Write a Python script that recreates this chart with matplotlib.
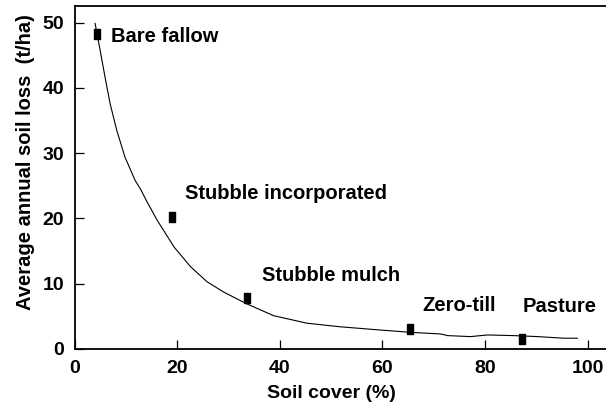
import matplotlib
matplotlib.use("Agg")
import matplotlib.pyplot as plt

plt.rcParams['font.family'] = ['Liberation Sans', 'DejaVu Sans']
plt.rcParams['font.weight'] = 'bold'

# measured points
cover = [4.3, 19.0, 33.6, 65.4, 87.2]
soil_loss = [48.3, 20.3, 7.8, 3.1, 1.6]
names = ['Bare fallow', 'Stubble incorporated', 'Stubble mulch', 'Zero-till', 'Pasture']
label_x = [7.0, 21.6, 36.5, 67.8, 87.3]
label_y = [47.9, 23.8, 11.3, 6.6, 6.5]

# fitted curve
curve_x = [3.97, 4.95, 5.9, 6.9, 8.2, 9.8, 11.8, 12.9, 14.0, 16.1, 19.4, 22.6, 25.8, 29.1,
           33.6, 38.8, 45.3, 51.8, 59.7, 65.5, 71.4, 72.7, 77.2, 80.5, 85.6, 90.2, 95.4, 98.0]
curve_y = [49.9, 45.8, 41.7, 37.6, 33.5, 29.4, 25.8, 24.4, 22.7, 19.7, 15.6, 12.6, 10.3, 8.7,
           6.9, 5.1, 3.95, 3.4, 2.9, 2.55, 2.3, 2.05, 1.9, 2.15, 2.05, 1.9, 1.65, 1.65]

xticks = [0, 20, 40, 60, 80, 100]
yticks = [0, 10, 20, 30, 40, 50]

fig = plt.figure(figsize=(6.06, 4.05), dpi=100)
ax = fig.add_axes([0.1233, 0.1383, 0.8767, 0.8469])

ax.plot(curve_x, curve_y, color='black', lw=0.8)
rect = [(-0.6, -1), (0.6, -1), (0.6, 1), (-0.6, 1), (-0.6, -1)]
ax.plot(cover, soil_loss, linestyle='none', marker=rect, markersize=7.2, color='black')

for n, tx, ty in zip(names, label_x, label_y):
    ax.text(tx, ty, n, fontsize=14.5, fontweight='bold', va='center', ha='left')

ax.set_xlim(0, 103.6)
ax.set_ylim(0, 52.56)
ax.set_xticks(xticks)
ax.set_yticks(yticks)
ax.tick_params(direction='in', length=6.5, width=0.9, labelsize=14)
ax.tick_params(axis='x', pad=8)
ax.tick_params(axis='y', pad=7.5)
for lab in ax.get_xticklabels() + ax.get_yticklabels():
    lab.set_fontweight('bold')
ax.spines['right'].set_visible(False)
for s in ['left', 'bottom', 'top']:
    ax.spines[s].set_linewidth(1.3)

ax.set_xlabel('Soil cover (%)', fontsize=14, fontweight='bold')
ax.xaxis.set_label_coords(0.4826, -0.106)
ax.set_ylabel('Average annual soil loss  (t/ha)', fontsize=14.5, fontweight='bold')
ax.yaxis.set_label_coords(-0.0747, 0.544)

fig.savefig('out.png', dpi=100)
